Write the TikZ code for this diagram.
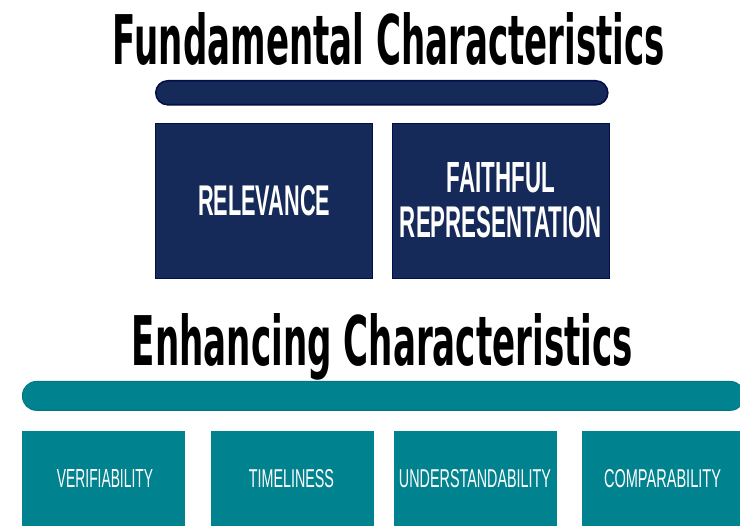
\documentclass[tikz,border=0pt]{standalone}
\usepackage{fontspec}
\setmainfont{DejaVu Sans}
\newfontfamily\labelfont{Liberation Sans}
\definecolor{navy}{RGB}{21,42,88}
\definecolor{navyedge}{RGB}{4,14,72}
\definecolor{tealc}{RGB}{0,131,143}
\definecolor{tealedge}{RGB}{0,118,130}
\tikzset{
  titletext/.style={inner sep=0pt, anchor=base},
  navybar/.style={anchor=north west, inner sep=0pt, fill=navy, draw=navyedge, line width=1.6pt, rounded corners=12pt},
  tealbar/.style={anchor=north west, inner sep=0pt, fill=tealc, draw=tealedge, line width=0.8pt, rounded corners=14pt},
  navybox/.style={anchor=north west, inner sep=0pt, fill=navy, draw=navyedge, line width=1.2pt, minimum width=217pt, minimum height=155pt, text=white, align=center},
  tealbox/.style={anchor=north west, inner sep=0pt, fill=tealc, minimum width=163pt, minimum height=110pt, text=white},
  boxlabel/.style={inner sep=0pt, text=white}
}
\begin{document}
\begin{tikzpicture}[x=1pt,y=-1pt]
\useasboundingbox (0,0) rectangle (740,526);
\clip (0,0) rectangle (740,526);
\fill[white] (0,0) rectangle (740,526);

% titles
\node[titletext] (t1) at (389,65) {\resizebox{552pt}{52pt}{\bfseries Fundamental Characteristics}};
\node[titletext] (t2) at (382.5,366) {\resizebox{501pt}{52pt}{\bfseries Enhancing Characteristics}};

% bars
\node[navybar, minimum width=452pt, minimum height=24pt] (bar1) at (155,80) {};
\node[tealbar, minimum width=722pt, minimum height=29pt] (bar2) at (22,381) {};

% fundamental boxes
\node[navybox] (rel) at (155,123) {};
\node[boxlabel] (rell) at (rel.center) {\resizebox{132pt}{30pt}{\labelfont\bfseries RELEVANCE}};
\node[navybox] (fr) at (392,123) {};
\node[boxlabel, anchor=base] (fr1) at (501,193) {\resizebox{108pt}{30pt}{\labelfont\bfseries FAITHFUL}};
\node[boxlabel, anchor=base] (fr2) at (501,238) {\resizebox{202pt}{31pt}{\labelfont\bfseries REPRESENTATION}};

% enhancing boxes
\node[tealbox] (ver) at (22,431) {};
\node[tealbox] (tim) at (211,431) {};
\node[tealbox] (und) at (394,431) {};
\node[tealbox, minimum width=170pt] (com) at (582,431) {};
\node[boxlabel, anchor=base] (verl) at (105,488) {\resizebox{96pt}{18pt}{\labelfont VERIFIABILITY}};
\node[boxlabel, anchor=base] (timl) at (291.5,488) {\resizebox{85pt}{18pt}{\labelfont TIMELINESS}};
\node[boxlabel, anchor=base] (undl) at (475,488) {\resizebox{152pt}{18pt}{\labelfont UNDERSTANDABILITY}};
\node[boxlabel, anchor=base] (coml) at (662.5,488) {\resizebox{117pt}{18pt}{\labelfont COMPARABILITY}};
\end{tikzpicture}
\end{document}
